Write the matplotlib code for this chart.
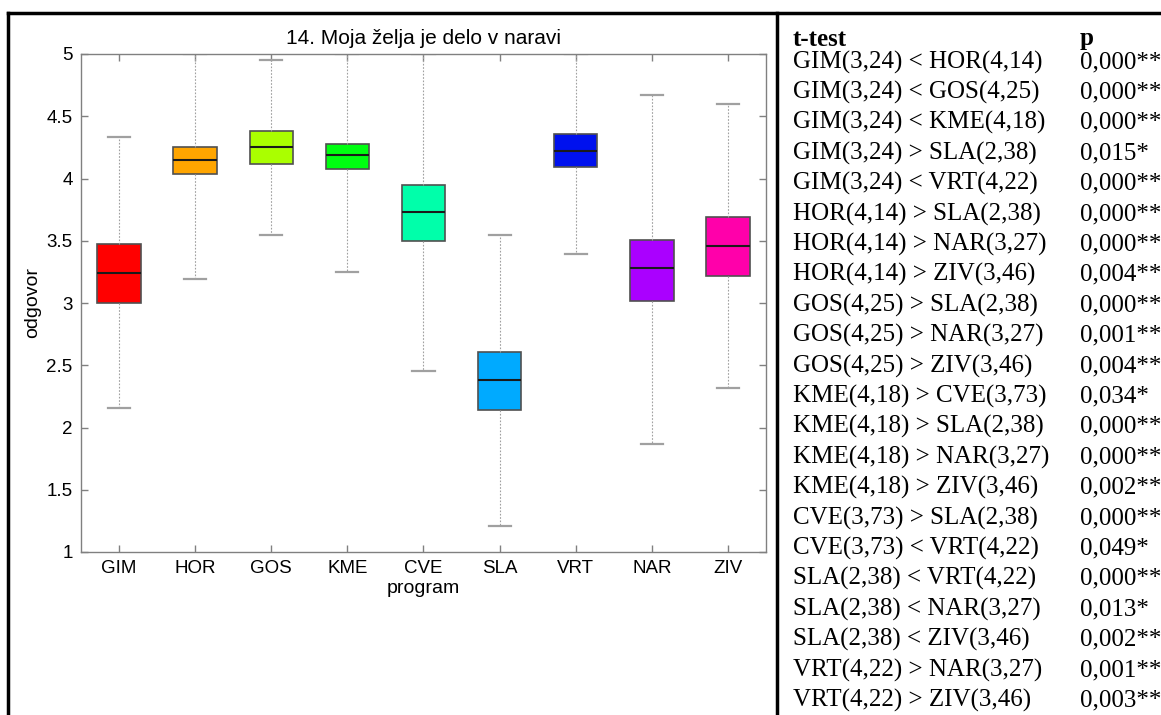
import matplotlib
matplotlib.use("Agg")
from matplotlib import pyplot as plt
from matplotlib.lines import Line2D

# box statistics
programs = ['GIM', 'HOR', 'GOS', 'KME', 'CVE', 'SLA', 'VRT', 'NAR', 'ZIV']
q1 = [3.00, 4.04, 4.12, 4.08, 3.50, 2.14, 4.09, 3.02, 3.22]
med = [3.24, 4.15, 4.25, 4.19, 3.73, 2.38, 4.22, 3.28, 3.46]
q3 = [3.47, 4.25, 4.38, 4.28, 3.95, 2.61, 4.36, 3.51, 3.69]
whislo = [2.16, 3.19, 3.55, 3.25, 2.45, 1.21, 3.39, 1.87, 2.32]
whishi = [4.33, 5.00, 4.95, 5.00, 5.00, 3.55, 5.00, 4.67, 4.60]
colors = ['#ff0000', '#ffa500', '#aaff00', '#00ff11', '#00ffaa',
          '#00aaff', '#0011ee', '#aa00ff', '#ff00aa']

tests = ['GIM(3,24) < HOR(4,14)', 'GIM(3,24) < GOS(4,25)',
         'GIM(3,24) < KME(4,18)', 'GIM(3,24) > SLA(2,38)',
         'GIM(3,24) < VRT(4,22)', 'HOR(4,14) > SLA(2,38)',
         'HOR(4,14) > NAR(3,27)', 'HOR(4,14) > ZIV(3,46)',
         'GOS(4,25) > SLA(2,38)', 'GOS(4,25) > NAR(3,27)',
         'GOS(4,25) > ZIV(3,46)', 'KME(4,18) > CVE(3,73)',
         'KME(4,18) > SLA(2,38)', 'KME(4,18) > NAR(3,27)',
         'KME(4,18) > ZIV(3,46)', 'CVE(3,73) > SLA(2,38)',
         'CVE(3,73) < VRT(4,22)', 'SLA(2,38) < VRT(4,22)',
         'SLA(2,38) < NAR(3,27)', 'SLA(2,38) < ZIV(3,46)',
         'VRT(4,22) > NAR(3,27)', 'VRT(4,22) > ZIV(3,46)']
pvals = ['0,000**', '0,000**', '0,000**', '0,015*', '0,000**', '0,000**',
         '0,000**', '0,004**', '0,000**', '0,001**', '0,004**', '0,034*',
         '0,000**', '0,000**', '0,002**', '0,000**', '0,049*', '0,000**',
         '0,013*', '0,002**', '0,001**', '0,003**']

W, H = 1161, 715
fig = plt.figure(figsize=(W / 100, H / 100), dpi=100, facecolor='w')
ax = fig.add_axes([81 / W, 1 - 552 / H, 685 / W, 498 / H])

stats = []
for i in range(len(programs)):
    stats.append({'q1': q1[i], 'med': med[i], 'q3': q3[i],
                  'whislo': whislo[i], 'whishi': whishi[i],
                  'fliers': [], 'label': programs[i]})

bp = ax.bxp(stats, positions=range(1, 10), widths=0.57, patch_artist=True,
            showfliers=False,
            boxprops=dict(edgecolor='#505050', linewidth=1.2),
            medianprops=dict(color='#1a1a1a', linewidth=1.5),
            whiskerprops=dict(color='#a0a0a0', linewidth=0.8,
                              linestyle=(0, (1.5, 1.5))),
            capprops=dict(color='#a0a0a0', linewidth=1.6), capwidths=0.29)
for patch, c in zip(bp['boxes'], colors):
    patch.set_facecolor(c)

ax.set_xlim(0.5, 9.5)
ax.set_ylim(1, 5)
ax.set_yticks([1, 1.5, 2, 2.5, 3, 3.5, 4, 4.5, 5])
ax.set_yticklabels(['1', '1.5', '2', '2.5', '3', '3.5', '4', '4.5', '5'])
for s in ax.spines.values():
    s.set_color('#808080')
    s.set_linewidth(1.0)
ax.tick_params(direction='in', length=5, color='#808080', width=1,
               top=True, right=True, labelsize=13.5, pad=6)
ax.set_title('14. Moja želja je delo v naravi', fontsize=15, pad=7,
             family='Liberation Sans')
ax.set_xlabel('program', fontsize=14, labelpad=2, family='Liberation Sans')
ax.set_ylabel('odgovor', fontsize=14, labelpad=4, family='Liberation Sans')
for lab in ax.get_xticklabels() + ax.get_yticklabels():
    lab.set_family('Liberation Sans')

# frame lines of the surrounding table
fig.add_artist(Line2D([8 / W, 1], [1 - 13 / H, 1 - 13 / H],
                      color='k', lw=2.5, transform=fig.transFigure))
fig.add_artist(Line2D([8 / W, 8 / W], [0, 1 - 13 / H],
                      color='k', lw=2.5, transform=fig.transFigure))
fig.add_artist(Line2D([777 / W, 777 / W], [0, 1 - 13 / H],
                      color='k', lw=2.5, transform=fig.transFigure))

# t-test table
x1, x2 = 793 / W, 1080 / W
fig.text(x1, 1 - 39 / H, 't-test', fontsize=18, weight='bold',
         family='Liberation Serif', va='center')
fig.text(x2, 1 - 39 / H, 'p', fontsize=18, weight='bold',
         family='Liberation Serif', va='center')
for i, (t, p) in enumerate(zip(tests, pvals)):
    y = 1 - (62 + i * 30.4) / H
    fig.text(x1, y, t, fontsize=18, family='Liberation Serif', va='center')
    fig.text(x2, y, p, fontsize=18, family='Liberation Serif', va='center')

fig.savefig('out.png', dpi=100, facecolor='w')
